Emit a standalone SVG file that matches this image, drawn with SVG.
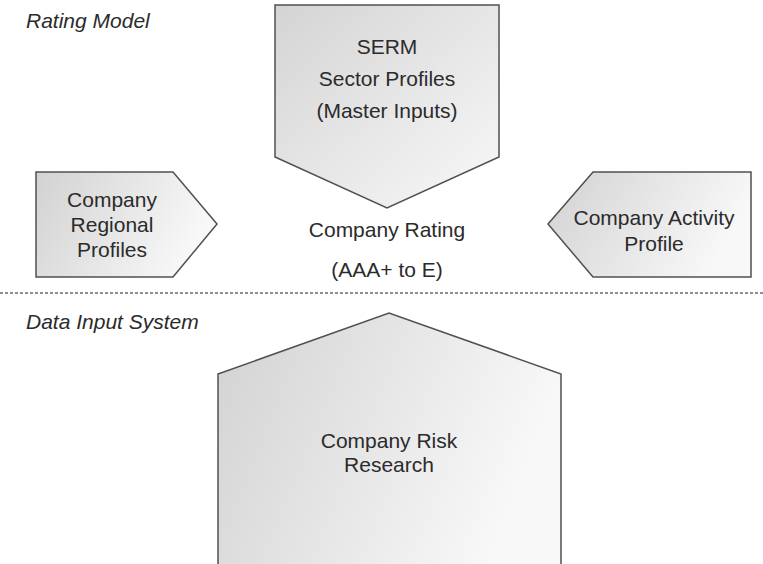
<svg xmlns="http://www.w3.org/2000/svg" width="763" height="564" viewBox="0 0 763 564">
<style>
  .shape { stroke: #505050; stroke-width: 1.5; stroke-linejoin: miter; }
  .t { font-family: "Liberation Sans", Arial, sans-serif; font-size: 21px; fill: #2b2b2b; text-anchor: middle; }
  .lbl { font-family: "Liberation Sans", Arial, sans-serif; font-size: 21px; font-style: italic; fill: #2b2b2b; }
  .sep { stroke: #6a6a6a; stroke-width: 1.3; stroke-dasharray: 3 2; fill: none; }
</style>
<defs>
  <linearGradient id="g" x1="0" y1="0" x2="1" y2="0.3">
    <stop offset="0" stop-color="#d2d2d2"/>
    <stop offset="1" stop-color="#f8f8f8"/>
  </linearGradient>
  <linearGradient id="gTop" x1="0" y1="0" x2="1" y2="1">
    <stop offset="0" stop-color="#d4d4d4"/>
    <stop offset="1" stop-color="#f8f8f8"/>
  </linearGradient>
</defs>
<rect width="763" height="564" fill="#ffffff"/>
<text class="lbl" x="26" y="28">Rating Model</text>
<text class="lbl" x="26" y="329">Data Input System</text>
<line class="sep" x1="0" y1="293" x2="763" y2="293"/>
<g id="serm">
  <polygon class="shape" fill="url(#gTop)" points="275,5 499,5 499,157 387,208 275,157"/>
  <text class="t" x="387" y="54">SERM</text>
  <text class="t" x="387" y="86">Sector Profiles</text>
  <text class="t" x="387" y="118">(Master Inputs)</text>
</g>
<g id="regional">
  <polygon class="shape" fill="url(#g)" points="36,172 173,172 217,224 173,277 36,277"/>
  <text class="t" x="112" y="207">Company</text>
  <text class="t" x="112" y="232">Regional</text>
  <text class="t" x="112" y="257">Profiles</text>
</g>
<g id="activity">
  <polygon class="shape" fill="url(#g)" points="548,224 593,172 751,172 751,277 593,277"/>
  <text class="t" x="654" y="225">Company Activity</text>
  <text class="t" x="654" y="251">Profile</text>
</g>
<g id="rating">
  <text class="t" x="387" y="237">Company Rating</text>
  <text class="t" x="387" y="277">(AAA+ to E)</text>
</g>
<g id="research">
  <polygon class="shape" fill="url(#g)" points="218,374 389,313 561,374 561,566 218,566"/>
  <text class="t" x="389" y="448">Company Risk</text>
  <text class="t" x="389" y="472">Research</text>
</g>
<g id="connectors"/>
</svg>
